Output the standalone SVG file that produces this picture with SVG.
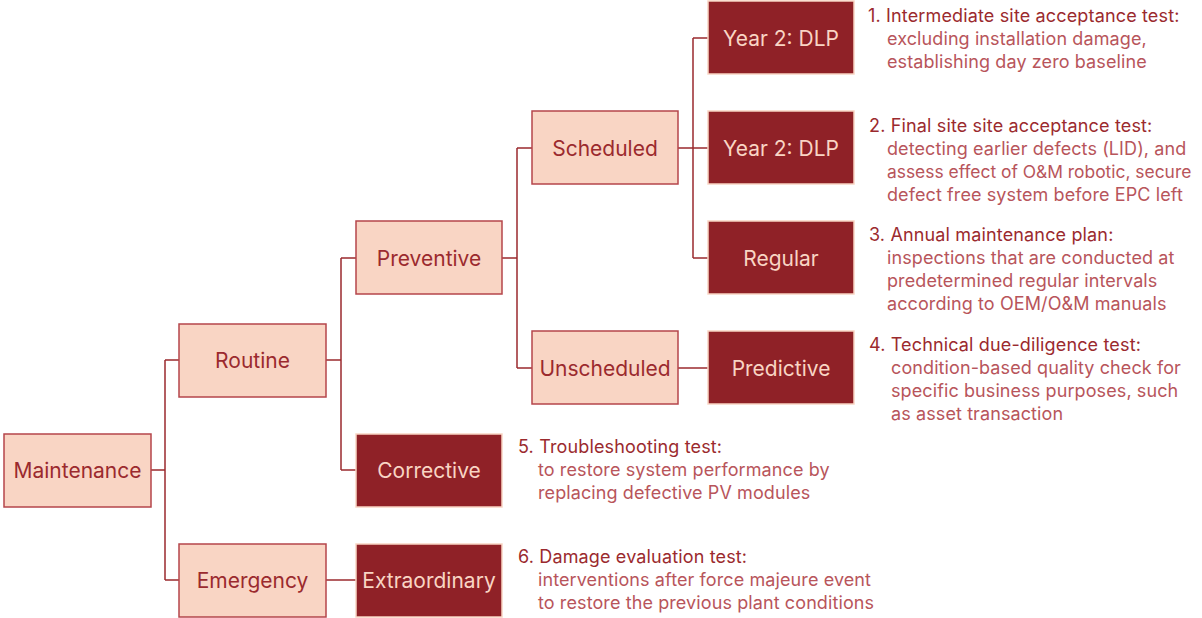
<svg xmlns="http://www.w3.org/2000/svg" width="1202" height="618" viewBox="0 0 1202 618">
<style>
.lb{fill:#F9D5C4;stroke:#B5454B;stroke-width:1.5}
.db{fill:#8F2127;stroke:#F9D5C4;stroke-width:1.5}
.lt{fill:#9B2A2E;font-family:Inter,"Liberation Sans",sans-serif;font-size:21px;text-anchor:middle}
.dt{fill:#F9D5C4;font-family:Inter,"Liberation Sans",sans-serif;font-size:21px;text-anchor:middle}
.h{fill:#9B2A2E;font-family:Inter,"Liberation Sans",sans-serif;font-size:18px;letter-spacing:0.15px}
.b{fill:#B8555B;font-family:Inter,"Liberation Sans",sans-serif;font-size:18px;letter-spacing:0.1px}
.n{font-size:17.4px;letter-spacing:0}
.c{fill:none;stroke:#9B2A2E;stroke-width:1.5}
</style>
<rect width="1202" height="618" fill="#FFFFFF"/>
<g id="connectors">
<path class="c" d="M151,470H165M165,360V580M165,360H179M165,580H179"/>
<path class="c" d="M326,360H341M341,258V470M341,258H356M341,470H356"/>
<path class="c" d="M326,580H356"/>
<path class="c" d="M502,258H517M517,148V368M517,148H532M517,368H532"/>
<path class="c" d="M678,148H693M693,38V258M693,38H708M693,148H708M693,258H708"/>
<path class="c" d="M678,368H708"/>
</g>
<g id="maintenance"><rect class="lb" x="4" y="434" width="147" height="73"/><text class="lt" x="77.5" y="477.5">Maintenance</text></g>
<g id="routine"><rect class="lb" x="179" y="324" width="147" height="73"/><text class="lt" x="252.5" y="367.5">Routine</text></g>
<g id="emergency"><rect class="lb" x="179" y="544" width="147" height="73"/><text class="lt" x="252.5" y="587.5">Emergency</text></g>
<g id="preventive"><rect class="lb" x="356" y="221" width="146" height="73"/><text class="lt" x="429" y="265.5">Preventive</text></g>
<g id="corrective"><rect class="db" x="356" y="434" width="146" height="73"/><text class="dt" x="429" y="477.5">Corrective</text></g>
<g id="extraordinary"><rect class="db" x="356" y="544" width="146" height="73"/><text class="dt" x="429" y="587.5">Extraordinary</text></g>
<g id="scheduled"><rect class="lb" x="532" y="111" width="146" height="73"/><text class="lt" x="605" y="155.5">Scheduled</text></g>
<g id="unscheduled"><rect class="lb" x="532" y="331" width="146" height="73"/><text class="lt" x="605" y="375.5">Unscheduled</text></g>
<g id="year2dlp1"><rect class="db" x="708" y="1" width="146" height="73"/><text class="dt" x="781" y="45.5">Year 2: DLP</text></g>
<g id="year2dlp2"><rect class="db" x="708" y="111" width="146" height="73"/><text class="dt" x="781" y="155.5">Year 2: DLP</text></g>
<g id="regular"><rect class="db" x="708" y="221" width="146" height="73"/><text class="dt" x="781" y="265.5">Regular</text></g>
<g id="predictive"><rect class="db" x="708" y="331" width="146" height="73"/><text class="dt" x="781" y="375.5">Predictive</text></g>
<g id="note1">
<text class="h" x="868" y="22">1. Intermediate site acceptance test:</text>
<text class="b" x="887" y="45">excluding installation damage,</text>
<text class="b" x="887" y="68">establishing day zero baseline</text>
</g>
<g id="note2">
<text class="h" x="869" y="132">2. Final site site acceptance test:</text>
<text class="b" x="887" y="155">detecting earlier defects (LID), and</text>
<text class="b n" x="887" y="178">assess effect of O&amp;M robotic, secure</text>
<text class="b" x="887" y="201">defect free system before EPC left</text>
</g>
<g id="note3">
<text class="h" x="869" y="241">3. Annual maintenance plan:</text>
<text class="b" x="887" y="264">inspections that are conducted at</text>
<text class="b" x="887" y="287">predetermined regular intervals</text>
<text class="b" x="887" y="310">according to OEM/O&amp;M manuals</text>
</g>
<g id="note4">
<text class="h" x="869" y="351">4. Technical due-diligence test:</text>
<text class="b" x="891" y="374">condition-based quality check for</text>
<text class="b" x="891" y="397">specific business purposes, such</text>
<text class="b" x="891" y="420">as asset transaction</text>
</g>
<g id="note5">
<text class="h" x="518" y="453">5. Troubleshooting test:</text>
<text class="b" x="538" y="476">to restore system performance by</text>
<text class="b" x="538" y="499">replacing defective PV modules</text>
</g>
<g id="note6">
<text class="h" x="518" y="563">6. Damage evaluation test:</text>
<text class="b" x="538" y="586">interventions after force majeure event</text>
<text class="b" x="538" y="609">to restore the previous plant conditions</text>
</g>
</svg>
